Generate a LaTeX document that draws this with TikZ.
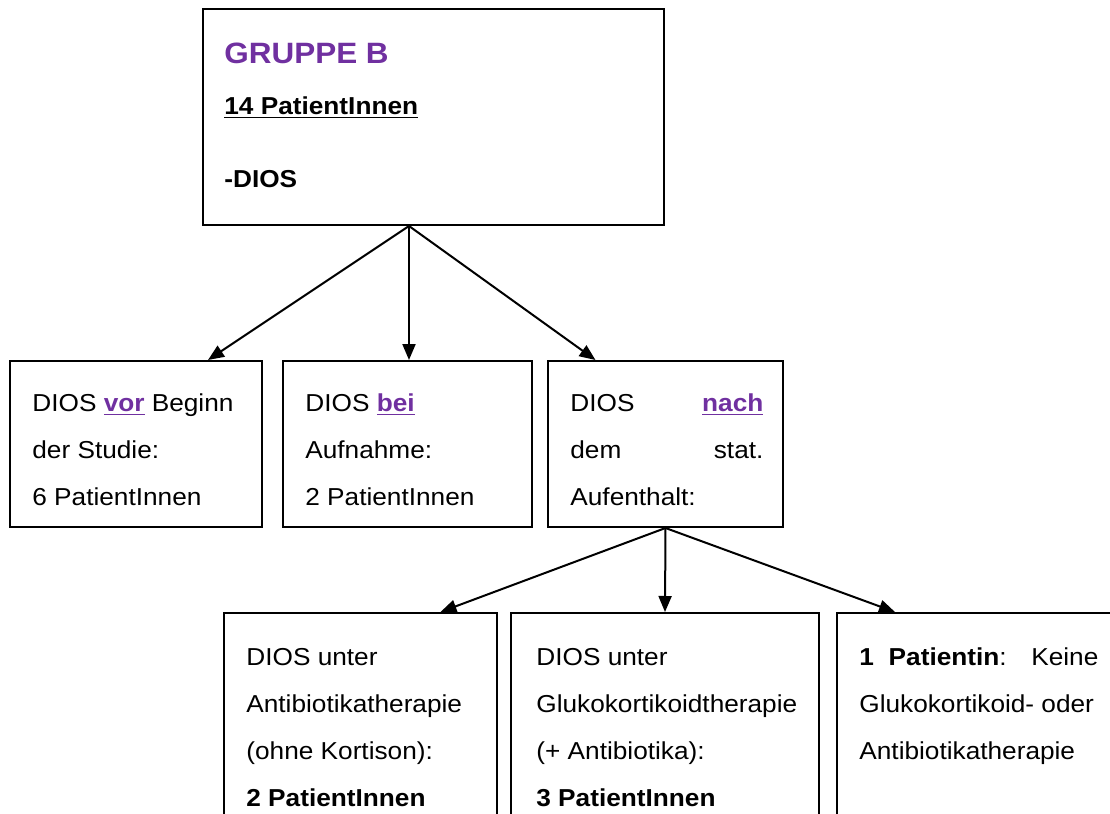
\documentclass[tikz,border=0pt]{standalone}
\usepackage{fontspec}
\setmainfont{Liberation Sans}[FakeStretch=1.07]
\usetikzlibrary{arrows.meta,fit}
\definecolor{lila}{RGB}{112,48,160}
\newcommand{\hl}[1]{\textcolor{lila}{\textbf{\underline{#1}}}}
\newcommand{\zeilen}[1]{\parbox[t]{200pt}{#1}}

\begin{document}
\begin{tikzpicture}[x=0.5pt, y=-0.5pt,
    box/.style={draw, line width=1pt, inner sep=0pt},
    txt/.style={anchor=base west, inner sep=0pt, font=\fontsize{12.25}{23.5}\selectfont},
    pfeil/.style={-{Triangle[length=8pt,width=6.5pt]}, line width=1pt}]
    \useasboundingbox (0,0) rectangle (1110,814);
    % Kaesten
    \node[box, fit={(203,9) (664,225)}] (grp) {};
    \node[box, fit={(10,361) (262,527)}] (vor) {};
    \node[box, fit={(283,361) (532,527)}] (bei) {};
    \node[box, fit={(548,361) (783,527)}] (nach) {};
    \node[box, fit={(224,613) (497,840)}] (ab) {};
    \node[box, fit={(511,613) (819,840)}] (gk) {};
    \node[box, fit={(837,613) (1125,840)}] (kein) {};
    % Texte
    \node[txt, font=\fontsize{14.7}{18}\selectfont\bfseries, text=lila] (grp-titel) at (224,63) {GRUPPE B};
    \node[txt, font=\fontsize{12.25}{15}\selectfont\bfseries] (grp-zahl) at (224,114) {\underline{14 PatientInnen}};
    \node[txt, font=\fontsize{12.25}{15}\selectfont\bfseries] (grp-dios) at (224,187) {-DIOS};
    \node[txt] (vor-t) at (32,411) {\zeilen{DIOS \hl{vor} Beginn\\der Studie:\\6 PatientInnen}};
    \node[txt] (bei-t) at (305,411) {\zeilen{DIOS \hl{bei}\\Aufnahme:\\2 PatientInnen}};
    \node[txt] (nach-t) at (570,411) {\zeilen{\makebox[96.5pt][s]{DIOS \hl{nach}}\\
        \makebox[96.5pt][s]{dem stat.}\\Aufenthalt:}};
    \node[txt] (ab-t) at (246,665) {\zeilen{DIOS unter\\Antibiotikatherapie\\(ohne Kortison):\\\textbf{2 PatientInnen}}};
    \node[txt] (gk-t) at (536,665) {\zeilen{DIOS unter\\Glukokortikoidtherapie\\(+ Antibiotika):\\\textbf{3 PatientInnen}}};
    \node[txt] (kein-t) at (859,665) {\zeilen{\makebox[119.5pt][s]{\textbf{1 Patientin}: Keine}\\
        Glukokortikoid- oder\\Antibiotikatherapie}};
    % Pfeile
    \draw[pfeil] ([xshift=-12.25pt]grp.south) -- ([xshift=36pt]vor.north);
    \draw[pfeil] ([xshift=-12.25pt]grp.south) -- ([xshift=-12.25pt]grp.south |- bei.north);
    \draw[pfeil] ([xshift=-12.25pt]grp.south) -- ([xshift=-35pt]nach.north);
    \draw[pfeil] (nach.south) -- ([xshift=40pt]ab.north);
    \draw[pfeil] (nach.south) -- (gk.north);
    \draw[pfeil] (nach.south) -- ([xshift=-43pt]kein.north);
\end{tikzpicture}
\end{document}
